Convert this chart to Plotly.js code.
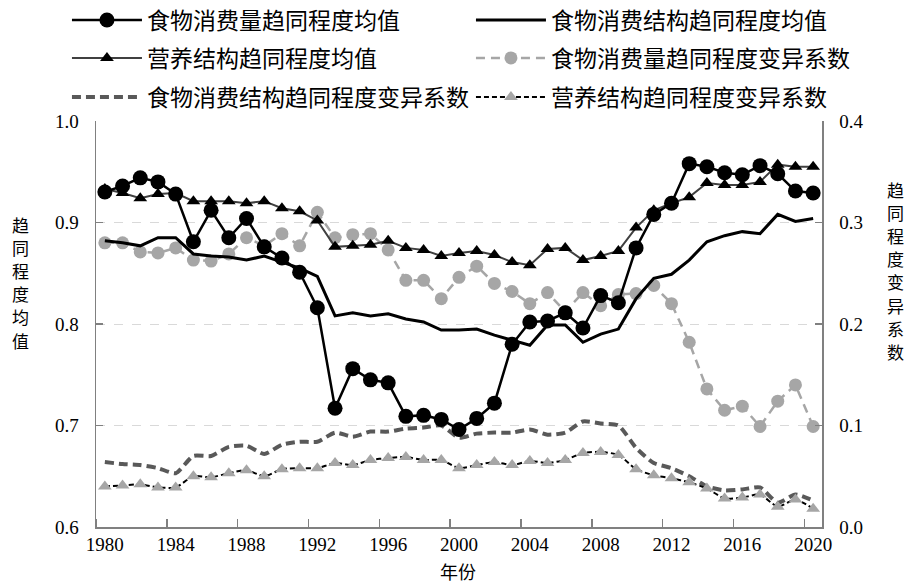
<!DOCTYPE html>
<html>
<head>
<meta charset="utf-8">
<script src="https://cdn.plot.ly/plotly-3.0.1.min.js"></script>
<style>html,body{margin:0;padding:0;background:#fff;}#chart{width:909px;height:585px;}</style>
</head>
<body>
<div id="chart"></div>
<script>
const years = [];
for (let y = 1980; y <= 2020; y++) years.push(y);

const seriesNames = [
  "食物消费量趋同程度均值",
  "食物消费结构趋同程度均值",
  "营养结构趋同程度均值",
  "食物消费量趋同程度变异系数",
  "食物消费结构趋同程度变异系数",
  "营养结构趋同程度变异系数"
];
const leftTitle = "趋同程度均值";
const rightTitle = "趋同程度变异系数";
const xTitle = "年份";

// left axis (均值)
const foodQtyMean = [0.930,0.936,0.944,0.940,0.928,0.881,0.912,0.885,0.904,0.876,0.865,
  0.851,0.816,0.717,0.756,0.745,0.742,0.709,0.710,0.706,0.696,
  0.707,0.722,0.780,0.802,0.803,0.811,0.796,0.828,0.821,0.875,
  0.908,0.919,0.958,0.955,0.949,0.947,0.956,0.948,0.931,0.929];
const foodStructMean = [0.882,0.880,0.877,0.885,0.885,0.869,0.867,0.866,0.863,0.867,0.861,
  0.855,0.847,0.808,0.811,0.808,0.810,0.805,0.802,0.794,0.794,
  0.795,0.789,0.784,0.779,0.799,0.799,0.782,0.790,0.795,0.825,
  0.845,0.849,0.863,0.881,0.887,0.891,0.889,0.908,0.901,0.904];
const nutriStructMean = [0.933,0.929,0.924,0.928,0.929,0.921,0.921,0.921,0.919,0.921,0.914,
  0.911,0.902,0.876,0.877,0.878,0.882,0.875,0.873,0.867,0.870,
  0.872,0.868,0.861,0.858,0.874,0.875,0.863,0.867,0.872,0.895,
  0.912,0.919,0.925,0.939,0.937,0.937,0.940,0.957,0.955,0.955];
// right axis (变异系数)
const foodQtyCV = [0.280,0.280,0.271,0.270,0.275,0.263,0.262,0.269,0.285,0.277,0.289,
  0.277,0.310,0.285,0.288,0.289,0.273,0.243,0.243,0.225,0.246,
  0.257,0.240,0.232,0.220,0.231,0.212,0.231,0.218,0.229,0.230,
  0.238,0.220,0.182,0.136,0.115,0.119,0.099,0.124,0.140,0.099];
const foodStructCV = [0.064,0.062,0.061,0.058,0.053,0.070,0.070,0.079,0.080,0.072,0.081,
  0.084,0.084,0.093,0.089,0.094,0.094,0.097,0.098,0.100,0.088,
  0.092,0.093,0.093,0.096,0.091,0.093,0.104,0.102,0.100,0.078,
  0.063,0.058,0.050,0.040,0.036,0.037,0.039,0.024,0.032,0.026];
const nutriStructCV = [0.040,0.041,0.042,0.039,0.039,0.050,0.049,0.053,0.056,0.050,0.057,
  0.058,0.058,0.063,0.061,0.066,0.068,0.069,0.066,0.066,0.058,
  0.061,0.064,0.061,0.065,0.063,0.066,0.073,0.074,0.071,0.057,
  0.051,0.048,0.044,0.038,0.028,0.029,0.032,0.020,0.027,0.018];

const xTickVals = [1980,1984,1988,1992,1996,2000,2004,2008,2012,2016,2020];
const leftTickVals = [0.6,0.7,0.8,0.9,1.0];
const rightTickVals = [0.0,0.1,0.2,0.3,0.4];

const traces = [
  // right-axis series first (drawn beneath)
  {x: years, y: foodQtyCV, name: seriesNames[3], legend: 'legend2', legendrank: 2, yaxis: 'y', mode: 'lines+markers',
   line: {color: '#a6a6a6', width: 2.5, dash: '9px,6px'}, marker: {symbol: 'circle', size: 13, color: '#a6a6a6'}},
  {x: years, y: foodStructCV, name: seriesNames[4], legend: 'legend3', legendrank: 1, yaxis: 'y', mode: 'lines',
   line: {color: '#595959', width: 4, dash: '9px,5px', shape: 'spline', smoothing: 0.6}},
  {x: years, y: nutriStructCV, name: seriesNames[5], legend: 'legend3', legendrank: 2, yaxis: 'y', mode: 'lines+markers',
   line: {color: '#000000', width: 2, dash: '5px,3px', shape: 'spline', smoothing: 0.6}, marker: {symbol: 'triangle-up', size: 12, color: '#a6a6a6'}},
  // left-axis series
  {x: years, y: nutriStructMean, name: seriesNames[2], legend: 'legend2', legendrank: 1, yaxis: 'y2', mode: 'lines+markers',
   line: {color: '#404040', width: 2}, marker: {symbol: 'triangle-up', size: 12, color: '#000000'}},
  {x: years, y: foodStructMean, name: seriesNames[1], legend: 'legend', legendrank: 2, yaxis: 'y2', mode: 'lines',
   line: {color: '#000000', width: 3}},
  {x: years, y: foodQtyMean, name: seriesNames[0], legend: 'legend', legendrank: 1, yaxis: 'y2', mode: 'lines+markers',
   line: {color: '#000000', width: 2.5}, marker: {symbol: 'circle', size: 15, color: '#000000'}}
];

const tickFont = {family: 'Liberation Serif, Times New Roman, serif', size: 19, color: '#000'};
const cjk = 'Noto Sans CJK SC, sans-serif';

// plot area geometry (pixels) for placing legends and titles
const plotTop = 121, plotH = 406;
const py = (pix) => (plotTop + plotH - pix) / plotH;

function legendRow(ypix) {
  return {
    orientation: 'h', x: -0.040, xanchor: 'left', y: py(ypix), yanchor: 'middle',
    entrywidth: 319, entrywidthmode: 'pixels', itemwidth: 70,
    font: {family: cjk, size: 23, color: '#000'},
    bgcolor: 'rgba(0,0,0,0)', traceorder: 'normal'
  };
}

const annotations = [];
Array.from(leftTitle).forEach((ch, i) => annotations.push({
  text: ch, xref: 'paper', yref: 'paper', x: (20 - 96) / 726, y: py(224 + i * 23.2),
  xanchor: 'center', yanchor: 'middle', showarrow: false, borderpad: 0, font: {family: cjk, size: 17, color: '#000'}
}));
Array.from(rightTitle).forEach((ch, i) => annotations.push({
  text: ch, xref: 'paper', yref: 'paper', x: (895 - 96) / 726, y: py(189 + i * 23.2),
  xanchor: 'center', yanchor: 'middle', showarrow: false, borderpad: 0, font: {family: cjk, size: 17, color: '#000'}
}));
annotations.push({text: xTitle, xref: 'paper', yref: 'paper', x: (458 - 96) / 726, y: py(571),
  xanchor: 'center', yanchor: 'middle', showarrow: false, borderpad: 0, font: {family: cjk, size: 18, color: '#000'}});

const layout = {
  width: 909, height: 585,
  margin: {l: 96, r: 87, t: 121, b: 58, autoexpand: false},
  paper_bgcolor: '#fff', plot_bgcolor: '#fff',
  showlegend: true,
  legend: legendRow(20),
  legend2: legendRow(58),
  legend3: legendRow(97),
  xaxis: {
    range: [1979.5, 2020.5], tickvals: xTickVals, ticks: '', tickfont: tickFont,
    showline: true, linecolor: '#808080', linewidth: 1.5, showgrid: false, zeroline: false,
    minor: {tick0: 1979.5, dtick: 4, ticks: 'inside', ticklen: 8, tickcolor: '#808080', tickwidth: 1.5, showgrid: false}
  },
  yaxis: {
    side: 'right', range: [0, 0.4], tickvals: rightTickVals, tickformat: '.1f', tickfont: tickFont,
    ticks: 'inside', ticklen: 7, tickcolor: '#808080', tickwidth: 1.5, ticklabelstandoff: 12,
    showline: true, linecolor: '#808080', linewidth: 1.5, zeroline: false,
    showgrid: true, gridcolor: '#d9d9d9', griddash: 'dash', gridwidth: 1
  },
  yaxis2: {
    overlaying: 'y', side: 'left', range: [0.6, 1.0], tickvals: leftTickVals, tickformat: '.1f', tickfont: tickFont,
    ticks: 'inside', ticklen: 7, tickcolor: '#808080', tickwidth: 1.5, ticklabelstandoff: 12,
    showline: true, linecolor: '#808080', linewidth: 1.5, zeroline: false, showgrid: false
  },
  annotations: annotations
};

Plotly.newPlot('chart', traces, layout, {displayModeBar: false, staticPlot: true});
</script>
</body>
</html>
